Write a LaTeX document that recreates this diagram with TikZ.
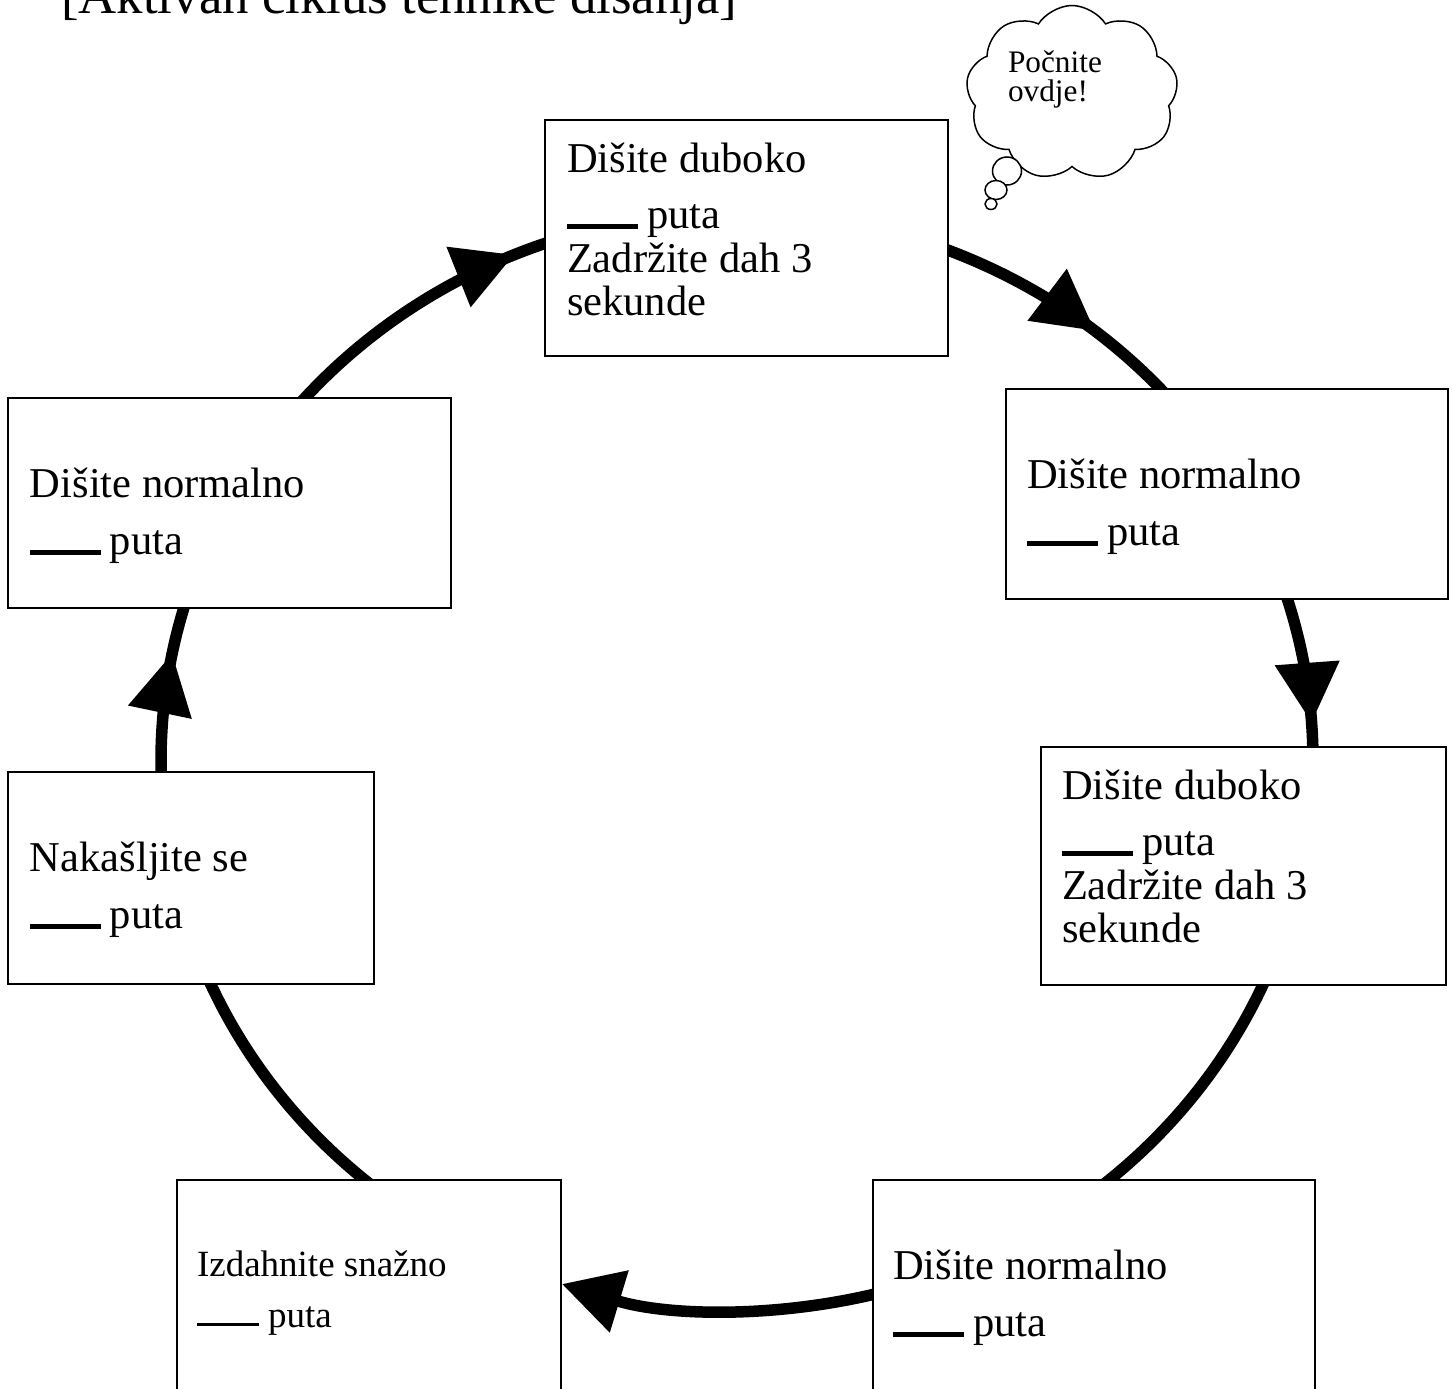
\documentclass[tikz,border=0pt]{standalone}
\usepackage{fontspec}
\setmainfont{Liberation Serif}
\usetikzlibrary{arrows.meta,decorations.markings,shapes.symbols,shapes.geometric,calc}
\pgfdeclarelayer{bg}
\pgfsetlayers{bg,main}
\tikzset{
  box/.style={draw=black, line width=1.8pt, fill=white, rectangle, inner sep=0pt, outer sep=0pt, anchor=north west},
  lbl/.style={anchor=base west, inner sep=0pt, outer sep=0pt, font=\fontsize{42.5}{49}\selectfont},
  lblsmall/.style={anchor=base west, inner sep=0pt, outer sep=0pt, font=\fontsize{37}{43}\selectfont},
  cloudtxt/.style={anchor=base west, inner sep=0pt, outer sep=0pt, font=\fontsize{31.3}{36}\selectfont},
  conn/.style={line width=11.5pt, draw=black},
  endtip/.style={-{Triangle[length=60pt,width=62pt]}},
  midtip/.style={postaction={decorate}, decoration={markings, mark=at position #1 with {\arrow{Triangle[length=60pt,width=62pt]}}}},
  bubble/.style={draw=black, line width=1.5pt, fill=white, ellipse, inner sep=0pt},
}
\newcommand{\blankbar}{\rule[-0.5pt]{71pt}{5pt}\hspace{9pt}}
\newcommand{\blankthin}{\rule[1.5pt]{62pt}{3pt}\hspace{9pt}}
\begin{document}
\begin{tikzpicture}[x=1pt,y=-1pt]
\useasboundingbox (0,0) rectangle (1452,1389);

% title (cut off at the top)
\node[anchor=base west, inner sep=0pt, font=\fontsize{52.8}{60}\selectfont] (title) at (61,14) {[Aktivan ciklus tehnike disanja]};

% boxes
\node[box, minimum width=403pt, minimum height=236pt] (t)  at (545,120) {};
\node[box, minimum width=442pt, minimum height=210pt] (ru) at (1006,389) {};
\node[box, minimum width=405pt, minimum height=238pt] (rl) at (1041,747) {};
\node[box, minimum width=442pt, minimum height=260pt] (br) at (873,1180) {};
\node[box, minimum width=384pt, minimum height=260pt] (bl) at (177,1180) {};
\node[box, minimum width=366pt, minimum height=212pt] (ll) at (8,772) {};
\node[box, minimum width=443pt, minimum height=210pt] (lu) at (8,398) {};

% texts
\node[lbl] (t1) at (567,172) {Dišite duboko};
\node[lbl] (t2) at (567,228) {\blankbar puta};
\node[lbl] (t3) at (567,272) {Zadržite dah 3};
\node[lbl] (t4) at (567,315) {sekunde};

\node[lbl] (ru1) at (1027,488) {Dišite normalno};
\node[lbl] (ru2) at (1027,545) {\blankbar puta};

\node[lbl] (rl1) at (1062,799) {Dišite duboko};
\node[lbl] (rl2) at (1062,855) {\blankbar puta};
\node[lbl] (rl3) at (1062,899) {Zadržite dah 3};
\node[lbl] (rl4) at (1062,942) {sekunde};

\node[lbl] (br1) at (893,1279) {Dišite normalno};
\node[lbl] (br2) at (893,1336) {\blankbar puta};

\node[lblsmall] (bl1) at (197,1276) {Izdahnite snažno};
\node[lblsmall] (bl2) at (197,1327) {\blankthin puta};

\node[lbl] (ll1) at (30,871) {Nakašljite se};
\node[lbl] (ll2) at (30,928) {\blankbar puta};

\node[lbl] (lu1) at (30,497) {Dišite normalno};
\node[lbl] (lu2) at (30,554) {\blankbar puta};

% thought cloud
\node[cloud, draw=black, line width=1.5pt, fill=white, cloud puffs=9, cloud puff arc=115, aspect=1.2,
      minimum width=212pt, minimum height=175pt, inner sep=0pt] (cloud) at (1072,93) {};
\node[bubble, minimum width=29pt, minimum height=28pt] (b1) at (1007,171) {};
\node[bubble, minimum width=22pt, minimum height=19pt] (b2) at (996,190) {};
\node[bubble, minimum width=12pt, minimum height=11pt] (b3) at (991,204) {};
\node[cloudtxt] (c1) at (1008,73) {Počnite};
\node[cloudtxt] (c2) at (1008,102) {ovdje!};

% cycle connectors on an ellipse
\coordinate (O) at (737,761);
\begin{pgfonlayer}{bg}
\fill[white] (0,0) rectangle (1452,1389);
\draw[conn, midtip=0.638] ($(O)+(-70:576 and 549)$) arc[start angle=-70, end angle=-41, x radius=576, y radius=549];
\draw[conn, midtip=0.79] ($(O)+(-19:576 and 549)$) arc[start angle=-19, end angle=0, x radius=576, y radius=549];
\draw[conn] ($(O)+(22:576 and 549)$) arc[start angle=22, end angle=52, x radius=576, y radius=549];
\draw[conn, endtip] ($(O)+(74:576 and 549)$) arc[start angle=74, end angle=107.7, x radius=576, y radius=549];
\draw[conn] ($(O)+(128:576 and 549)$) arc[start angle=128, end angle=158, x radius=576, y radius=549];
\draw[conn, midtip=0.68] ($(O)+(177:576 and 549)$) arc[start angle=177, end angle=198, x radius=576, y radius=549];
\draw[conn, midtip=0.85] ($(O)+(220:576 and 549)$) arc[start angle=220, end angle=252, x radius=576, y radius=549];
\end{pgfonlayer}
\end{tikzpicture}
\end{document}
